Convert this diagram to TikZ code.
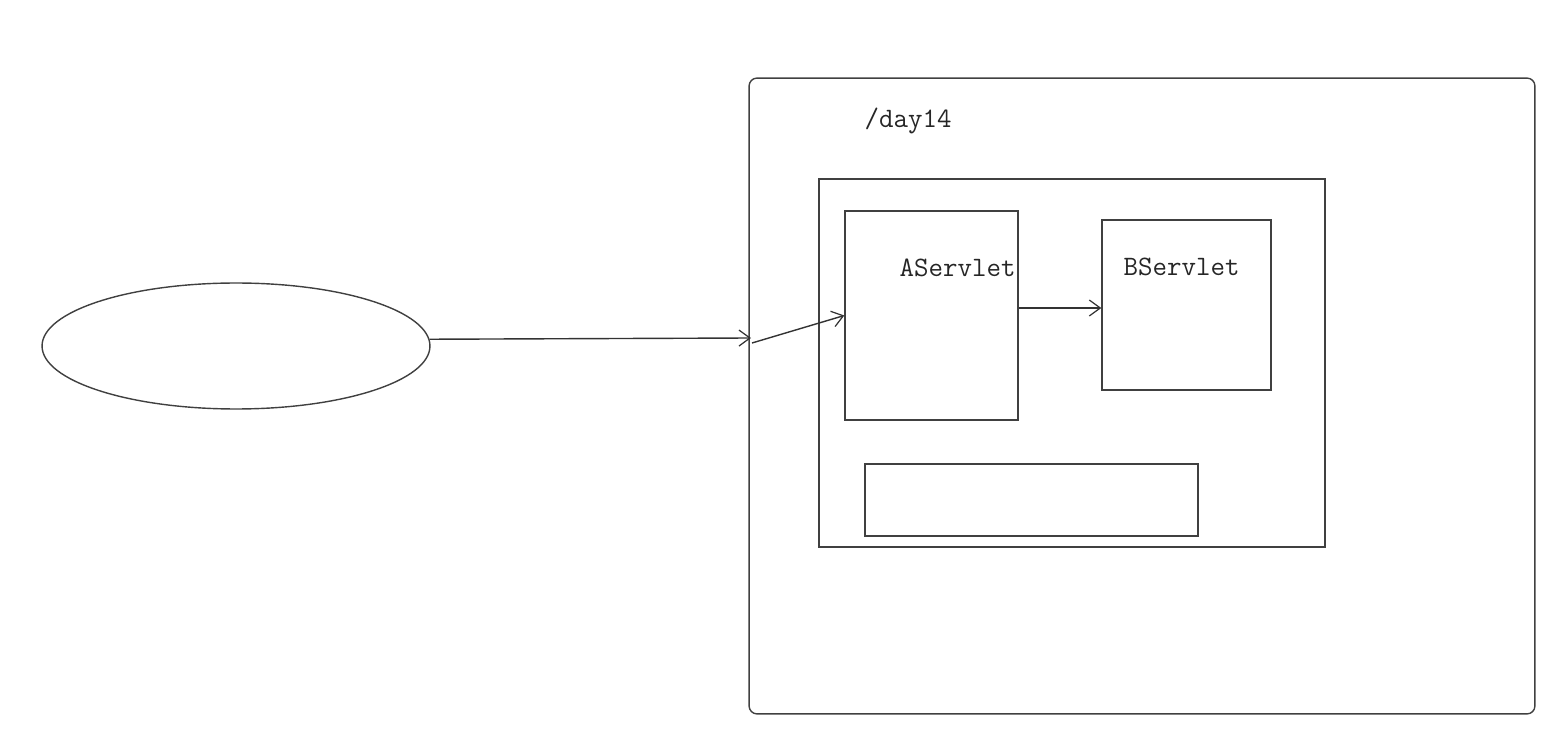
\documentclass[tikz,border=0pt]{standalone}
\usetikzlibrary{arrows.meta,shapes.geometric}
\begin{document}
\begin{tikzpicture}[x=0.02cm,y=-0.02cm,line width=0.8pt,
  box/.style={draw=black!75,rectangle,inner sep=0pt},
  lbl/.style={font=\ttfamily\fontsize{16}{19}\selectfont,text=black!85,inner sep=0pt,anchor=west},
  arr/.style={-{Straight Barb[length=2.2mm,width=3.2mm,line width=0.7pt]},draw=black!80}]
\useasboundingbox (0,0) rectangle (1565,749);
\node[draw=black!75,ellipse,minimum width=7.76cm,minimum height=2.52cm,inner sep=0pt] (client) at (236,346) {};
\node[box,rounded corners=0.16cm,minimum width=15.72cm,minimum height=12.72cm] (server) at (1142,396) {};
\node[box,minimum width=10.12cm,minimum height=7.36cm] (app) at (1072,363) {};
\node[box,minimum width=3.46cm,minimum height=4.18cm] (aserv) at (931.5,315.5) {};
\node[box,minimum width=3.38cm,minimum height=3.40cm] (bserv) at (1186.5,305) {};
\node[box,minimum width=6.66cm,minimum height=1.44cm] (conf) at (1031.5,500) {};
\node[lbl] (ctx) at (864,121) {/day14};
\node[lbl] (atxt) at (899,268) {AServlet};
\node[lbl] (btxt) at (1123,267) {BServlet};
\coordinate (port) at (751,338);
\coordinate (porta) at (752,343);
\draw[arr] (client.2) -- (port);
\draw[arr] (porta) -- (aserv.west);
\draw[arr] (aserv.east |- 0,308) -- (bserv.west |- 0,308);
\end{tikzpicture}
\end{document}
